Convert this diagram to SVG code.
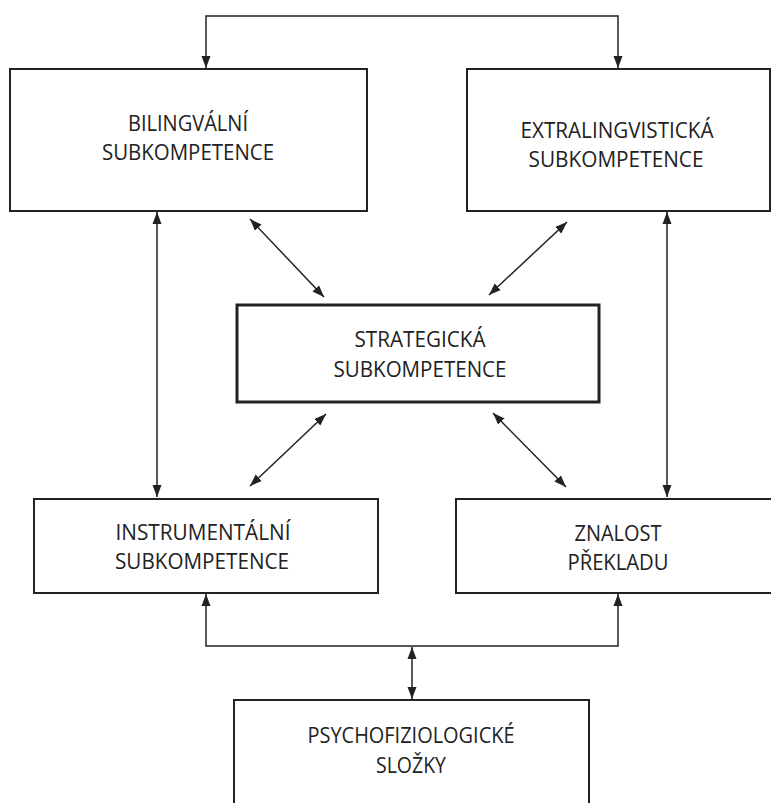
<svg xmlns="http://www.w3.org/2000/svg" width="771" height="803" viewBox="0 0 771 803">
<style>
.box{fill:#fff;stroke:#222;stroke-width:2}
.thick{stroke-width:3}
.c{fill:none;stroke:#222;stroke-width:1.5}
text{font-family:"Open Sans","Liberation Sans",sans-serif;font-size:21px;fill:#222;text-anchor:middle}
</style>
<defs>
<marker id="ah" viewBox="0 0 12 10" refX="12" refY="5" markerWidth="12" markerHeight="10" markerUnits="userSpaceOnUse" orient="auto-start-reverse">
<path d="M0,0.5 L12,5 L0,9.5 Z" fill="#222"/>
</marker>
</defs>
<rect width="771" height="803" fill="#fff"/>
<g id="connectors">
<path class="c" d="M206,68 V16 H618 V68" marker-start="url(#ah)" marker-end="url(#ah)"/>
<path class="c" d="M157,212 V497" marker-start="url(#ah)" marker-end="url(#ah)"/>
<path class="c" d="M667,212 V497" marker-start="url(#ah)" marker-end="url(#ah)"/>
<path class="c" d="M250,219 L324,297" marker-start="url(#ah)" marker-end="url(#ah)"/>
<path class="c" d="M567,222 L489,295" marker-start="url(#ah)" marker-end="url(#ah)"/>
<path class="c" d="M326,414 L250,486" marker-start="url(#ah)" marker-end="url(#ah)"/>
<path class="c" d="M493,413 L566,487" marker-start="url(#ah)" marker-end="url(#ah)"/>
<path class="c" d="M206,594 V646 H618 V594" marker-start="url(#ah)" marker-end="url(#ah)"/>
<path class="c" d="M412,647 V699" marker-start="url(#ah)" marker-end="url(#ah)"/>
</g>
<g id="bilingvalni">
<rect class="box" x="10" y="69" width="357" height="142"/>
<text x="188" y="131" textLength="120" lengthAdjust="spacingAndGlyphs">BILINGVÁLNÍ</text>
<text x="188" y="160" textLength="172" lengthAdjust="spacingAndGlyphs">SUBKOMPETENCE</text>
</g>
<g id="extralingvisticka">
<rect class="box" x="467" y="69" width="303" height="142"/>
<text x="617" y="138" textLength="193" lengthAdjust="spacingAndGlyphs">EXTRALINGVISTICKÁ</text>
<text x="616" y="167" textLength="175" lengthAdjust="spacingAndGlyphs">SUBKOMPETENCE</text>
</g>
<g id="strategicka">
<rect class="box thick" x="237" y="305" width="362" height="97"/>
<text x="420" y="347" textLength="131" lengthAdjust="spacingAndGlyphs">STRATEGICKÁ</text>
<text x="420" y="377" textLength="173" lengthAdjust="spacingAndGlyphs">SUBKOMPETENCE</text>
</g>
<g id="instrumentalni">
<rect class="box" x="34" y="499" width="344" height="94"/>
<text x="203" y="540" textLength="175" lengthAdjust="spacingAndGlyphs">INSTRUMENTÁLNÍ</text>
<text x="202" y="569" textLength="174" lengthAdjust="spacingAndGlyphs">SUBKOMPETENCE</text>
</g>
<g id="znalost">
<rect class="box" x="456" y="499" width="330" height="94"/>
<text x="618" y="541" textLength="87" lengthAdjust="spacingAndGlyphs">ZNALOST</text>
<text x="618" y="570" textLength="101" lengthAdjust="spacingAndGlyphs">PŘEKLADU</text>
</g>
<g id="psychofyziologicke">
<rect class="box" x="234" y="700" width="355" height="120"/>
<text x="411" y="743" textLength="207" lengthAdjust="spacingAndGlyphs">PSYCHOFIZIOLOGICKÉ</text>
<text x="411" y="773" textLength="70" lengthAdjust="spacingAndGlyphs">SLOŽKY</text>
</g>
</svg>
